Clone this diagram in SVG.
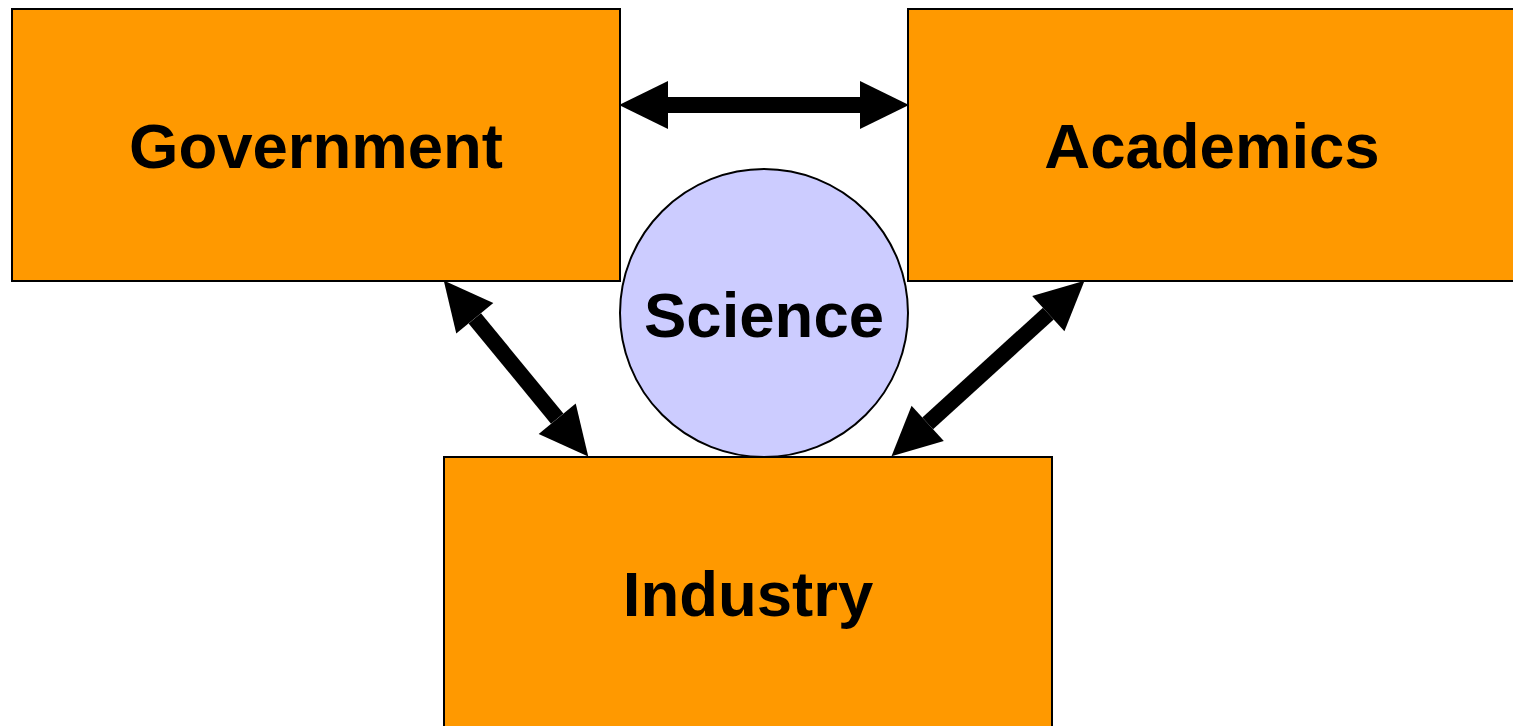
<svg xmlns="http://www.w3.org/2000/svg" width="1513" height="726" viewBox="0 0 1513 726">
  <style>
    .box { fill: #FF9900; stroke: #000; stroke-width: 2; }
    .hub { fill: #CCCCFF; stroke: #000; stroke-width: 2; }
    .label { font-family: "Liberation Sans", Arial, sans-serif; font-weight: bold; font-size: 63.5px; fill: #000; text-anchor: middle; }
    .link { stroke: #000; stroke-width: 16; fill: none; marker-start: url(#head); marker-end: url(#head); }
  </style>
  <defs>
    <!-- arrowhead: base at the line end, tip 47 units ahead -->
    <marker id="head" markerUnits="userSpaceOnUse" markerWidth="50" markerHeight="50" viewBox="0 -24 48 48" refX="0" refY="0" orient="auto-start-reverse" overflow="visible">
      <path d="M0,-23 L47,0 L0,23 Z" fill="#000"/>
    </marker>
  </defs>
  <rect width="1513" height="726" fill="#fff"/>

  <g id="government">
    <rect class="box" x="12" y="9" width="608" height="272"/>
    <text class="label" x="316" y="168">Government</text>
  </g>
  <g id="academics">
    <rect class="box" x="908" y="9" width="608" height="272"/>
    <text class="label" x="1212" y="168">Academics</text>
  </g>
  <g id="industry">
    <rect class="box" x="444" y="457" width="608" height="272"/>
    <text class="label" x="748" y="616">Industry</text>
  </g>
  <g id="science">
    <circle class="hub" cx="764" cy="313" r="144"/>
    <text class="label" x="764" y="337">Science</text>
  </g>

  <g id="connectors">
    <line class="link" x1="668" y1="105" x2="860" y2="105"/>
    <line class="link" x1="474.8" y1="318.3" x2="557.2" y2="418.7"/>
    <line class="link" x1="1048.3" y1="313.6" x2="927.7" y2="423.4"/>
  </g>
</svg>
